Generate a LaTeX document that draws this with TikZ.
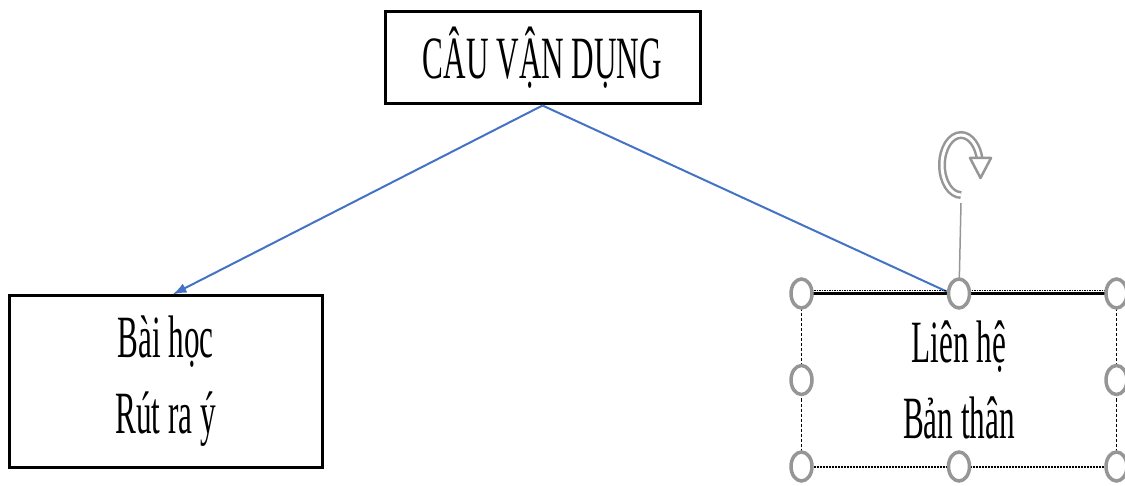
\documentclass[tikz,border=0pt]{standalone}
\usepackage{fontspec}
\setmainfont{Liberation Serif}[FakeStretch=0.52]
\usetikzlibrary{arrows.meta, shapes.geometric}
\definecolor{linkblue}{RGB}{68,114,196}
\definecolor{handlegray}{RGB}{150,150,150}
\tikzset{
  box/.style={rectangle, draw=black, line width=3pt, inner sep=0pt, align=center,
    font=\fontsize{60}{76}\selectfont},
  conn/.style={draw=linkblue, line width=2pt},
  handle/.style={ellipse, draw=handlegray, line width=3.5pt, fill=white,
    minimum width=21pt, minimum height=29pt, inner sep=0pt},
  sideframe/.style={draw=black, line width=1.8pt, densely dashed},
}
\begin{document}
\begin{tikzpicture}[x=1pt, y=-1pt]
  \useasboundingbox (0,0) rectangle (1125,486);

  % boxes
  \node[box, minimum width=315pt, minimum height=92pt] (top) at (542.5,58) {CÂU VẬN DỤNG};
  \node[box, minimum width=313pt, minimum height=171pt] (left) at (165.5,381.5) {Bài học\\Rút ra ý};
  \node[box, draw=none, minimum width=312pt, minimum height=170pt] (right) at (959,380) {Liên hệ\\Bản thân};

  % connectors
  \draw[conn, -{Latex[length=14pt, width=10pt]}] (top.south) -- ([xshift=7pt]left.north);
  \draw[conn] (top.south) -- ([xshift=-8pt]right.north);

  % selection frame of the right box
  \draw[draw=black, line width=2pt, densely dotted] (right.south west) -- (right.south east);
  \draw[sideframe] (right.north west) -- (right.south west);
  \draw[sideframe] (right.north east) -- (right.south east);
  \draw[draw=black, line width=3pt] (right.north west) -- (right.north east);
  \draw[draw=black, line width=1.5pt, densely dotted] ([yshift=3pt]right.north west) -- ([yshift=3pt]right.north east);

  % rotation handle
  \coordinate (rot) at (961,165);
  \draw[handlegray, line width=1.5pt] (right.north) -- ([yshift=-38pt]rot);
  \begin{scope}[shift={(rot)}, yscale=-1]
    \draw[handlegray, line width=2.5pt, double=white, double distance=3pt]
      (0,-30) arc[start angle=-90, end angle=-350, x radius=19, y radius=30];
    \draw[handlegray, line width=2.5pt, fill=white, line join=round]
      (9,7) -- (30,7) -- (19.5,-13) -- cycle;
  \end{scope}

  % resize handles
  \foreach \nm/\anc in {nw/north west, n/north, ne/north east, w/west, e/east, sw/south west, s/south, se/south east}
    \node[handle] (h\nm) at (right.\anc) {};
\end{tikzpicture}
\end{document}
